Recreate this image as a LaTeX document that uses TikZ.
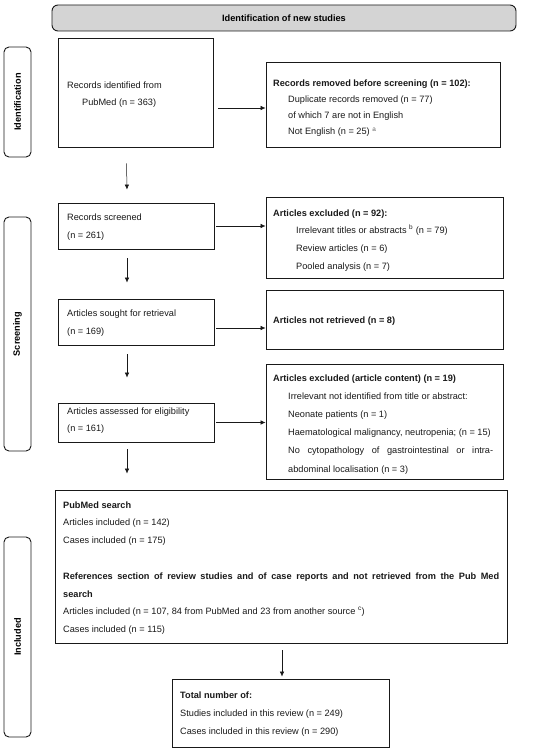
\documentclass[tikz,border=0pt]{standalone}
\usepackage{fontspec}
\setmainfont{Liberation Sans}
\usetikzlibrary{arrows.meta,calc}
\begin{document}
\begin{tikzpicture}[x=1pt,y=-1pt,
  box/.style={draw=black!90, line width=0.9pt, inner sep=0pt},
  side/.style={draw=black!90, line width=0.9pt, inner sep=0pt, rounded corners=5pt, rotate=90, font=\fontsize{9.2}{11}\selectfont\bfseries, minimum height=27pt},
  txt/.style={anchor=base west, inner sep=0pt, align=left, text=black!90},
  arr/.style={-{Latex[length=5pt,width=4.5pt]}, line width=0.5pt, draw=black!90}]
\useasboundingbox (0,0) rectangle (550,752);
% header
\node[box, rounded corners=6pt, fill=black!17, minimum width=464pt, minimum height=26pt, font=\fontsize{9.2}{11}\selectfont\bfseries] (hdr) at (284,18) {Identification of new studies};
% side labels
\node[side, minimum width=110pt] (sid1) at (17.5,102) {Identification};
\node[side, minimum width=234pt] (sid2) at (17.5,334) {Screening};
\node[side, minimum width=200pt] (sid3) at (17.5,637) {Included};
% boxes
\node[box, minimum width=155pt, minimum height=109pt] (rec) at (135.5,92.5) {};
\node[box, minimum width=234pt, minimum height=85pt] (rem) at (383,104.5) {};
\node[box, minimum width=156pt, minimum height=46pt] (scr) at (136,226) {};
\node[box, minimum width=237pt, minimum height=81pt] (ex1) at (384.5,237.5) {};
\node[box, minimum width=156pt, minimum height=46pt] (sou) at (136,322) {};
\node[box, minimum width=237pt, minimum height=59pt] (nr) at (384.5,319.5) {};
\node[box, minimum width=156pt, minimum height=39pt] (ass) at (136,422.5) {};
\node[box, minimum width=237pt, minimum height=115pt] (ex2) at (384.5,421.5) {};
\node[box, minimum width=452pt, minimum height=153pt] (pm) at (281,566.5) {};
\node[box, minimum width=217pt, minimum height=68pt] (tot) at (280.5,713) {};
% texts (anchor = baseline of last line)
\node[txt, font=\fontsize{9.2}{17}\selectfont] (trec) at (67,105) {Records identified from\\\hspace*{15pt}PubMed (n = 363)};
\node[txt, font=\fontsize{9.2}{16.3}\selectfont] (trem) at (273,134.9) {\textbf{Records removed before screening (n = 102):}\\
\hspace*{15pt}Duplicate records removed (n = 77)\\
\hspace*{15pt}of which 7 are not in English\\
\hspace*{15pt}Not English (n = 25) \textsuperscript{\color{black!60}a}};
\node[txt, font=\fontsize{9.2}{18}\selectfont] (tscr) at (67,238) {Records screened\\(n = 261)};
\node[txt, font=\fontsize{9.2}{17.7}\selectfont] (tex1) at (273,269.1) {\textbf{Articles excluded (n = 92):}\\
\hspace*{23pt}Irrelevant titles or abstracts \textsuperscript{b} (n = 79)\\
\hspace*{23pt}Review articles (n = 6)\\
\hspace*{23pt}Pooled analysis (n = 7)};
\node[txt, font=\fontsize{9.2}{18}\selectfont] (tsou) at (67,334) {Articles sought for retrieval\\(n = 169)};
\node[txt, font=\fontsize{9.2}{18}\selectfont\bfseries] (tnr) at (273,323) {Articles not retrieved (n = 8)};
\node[txt, font=\fontsize{9.2}{17.5}\selectfont] (tass) at (67,431.5) {Articles assessed for eligibility\\(n = 161)};
\node[txt, font=\fontsize{9.2}{18.2}\selectfont] (tex2) at (273,472) {\textbf{Articles excluded (article content) (n = 19)}\\
\hspace*{15pt}Irrelevant not identified from title or abstract:\\
\hspace*{15pt}Neonate patients (n = 1)\\
\hspace*{15pt}Haematological malignancy, neutropenia; (n = 15)\\
\hspace*{15pt}\makebox[205pt][s]{No cytopathology of gastrointestinal or intra-}\\
\hspace*{15pt}abdominal localisation (n = 3)};
\node[txt, font=\fontsize{9.2}{17.8}\selectfont] (tpm) at (63,632.6) {\textbf{PubMed search}\\
Articles included (n = 142)\\
Cases included (n = 175)\\[17.8pt]
\makebox[436pt][s]{\bfseries References section of review studies and of case reports and not retrieved from the Pub Med}\\
\textbf{search}\\
Articles included (n = 107, 84 from PubMed and 23 from another source \textsuperscript{c})\\
Cases included (n = 115)};
\node[txt, font=\fontsize{9.2}{18}\selectfont] (ttot) at (180,734) {\textbf{Total number of:}\\
Studies included in this review (n = 249)\\
Cases included in this review (n = 290)};
% connectors
\draw[arr] ($(rec.east |- rem.west)+(5,3.5)$) -- ($(rem.west)+(0,3.5)$);
\draw[arr] ([xshift=2pt]scr.east) -- (scr.east -| ex1.west);
\draw[arr] ([xshift=2pt,yshift=-6pt]sou.east) -- ([yshift=-6pt]sou.east -| nr.west);
\draw[arr] ([xshift=2pt]ass.east) -- (ass.east -| ex2.west);
\draw[arr] ([xshift=-9pt,yshift=-16pt]rec.south) -- ([xshift=-9pt,yshift=13pt]scr.north);
\draw[arr] ([xshift=-9pt,yshift=-9pt]scr.south) -- ([xshift=-9pt,yshift=16pt]sou.north);
\draw[arr] ([xshift=-9pt,yshift=-9pt]sou.south) -- ([xshift=-9pt,yshift=25pt]ass.north);
\draw[arr] ([xshift=-9pt,yshift=-7pt]ass.south) -- ([xshift=-9pt,yshift=16pt]pm.north -| ass.south);
\draw[arr] ([xshift=1.5pt,yshift=-7pt]pm.south -| tot.north) -- ([xshift=1.5pt,yshift=2pt]tot.north);
\end{tikzpicture}
\end{document}
